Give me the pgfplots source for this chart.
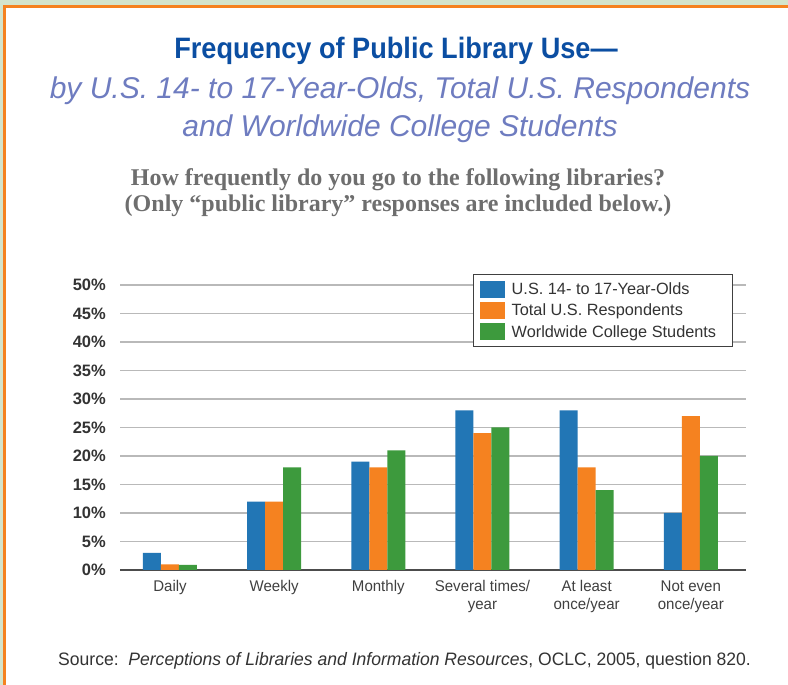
\documentclass[border=0pt]{standalone}
\usepackage{pgfplots}
\pgfplotsset{compat=1.18}
\usepackage{fontspec}
\setmainfont{Liberation Sans}
\newfontfamily\titlefont[FakeStretch=0.92]{Liberation Sans}
\newfontfamily\subfont{Liberation Sans}
\newfontfamily\qfont{Liberation Serif}
\newfontfamily\srcfont[FakeStretch=0.975]{Liberation Sans}
\newfontfamily\catfont[FakeStretch=0.97]{Liberation Sans}
\definecolor{barblue}{RGB}{34,118,181}
\definecolor{barorange}{RGB}{245,130,32}
\definecolor{bargreen}{RGB}{61,154,61}
\definecolor{titleblue}{RGB}{11,78,162}
\definecolor{subblue}{RGB}{110,124,192}
\definecolor{qgrey}{RGB}{110,110,110}
\definecolor{frameorange}{RGB}{245,130,32}
\definecolor{framegreen}{RGB}{212,228,204}
\definecolor{gridgrey}{RGB}{185,185,185}
\definecolor{txtdark}{RGB}{51,51,51}
\begin{document}
\begin{tikzpicture}[x=1pt,y=1pt]
\useasboundingbox (0,0) rectangle (788,685);
% frame
\fill[white] (0,0) rectangle (788,685);
\fill[framegreen] (0,680) rectangle (788,685);
\fill[framegreen] (0,0) rectangle (3,680);
\fill[frameorange] (3,677) rectangle (788,680);
\fill[frameorange] (3,0) rectangle (6,680);
% titles
\node[anchor=base, text=titleblue, font=\titlefont\bfseries\fontsize{29.5}{32}\selectfont, inner sep=0pt] at (396,626) {Frequency of Public Library Use—};
\node[anchor=base, text=subblue, font=\subfont\itshape\fontsize{30}{32}\selectfont, inner sep=0pt] at (400,586) {by U.S. 14- to 17-Year-Olds, Total U.S. Respondents};
\node[anchor=base, text=subblue, font=\subfont\itshape\fontsize{30}{32}\selectfont, inner sep=0pt] at (400,548) {and Worldwide College Students};
\node[anchor=base, text=qgrey, font=\qfont\bfseries\fontsize{24}{28}\selectfont, inner sep=0pt] at (398,499) {How frequently do you go to the following libraries?};
\node[anchor=base, text=qgrey, font=\qfont\bfseries\fontsize{24}{28}\selectfont, inner sep=0pt] at (398,473) {(Only “public library” responses are included below.)};
\node[anchor=base west, text=txtdark, font=\srcfont\fontsize{18}{20}\selectfont, inner sep=0pt] at (58,19) {Source:\ \ \textit{Perceptions of Libraries and Information Resources}, OCLC, 2005, question 820.};
\begin{axis}[
  at={(120pt,115pt)}, anchor=south west,
  scale only axis, width=626pt, height=285pt,
  xmin=-0.48, xmax=5.53, ymin=0, ymax=50,
  ybar=0pt, bar width=18pt,
  axis y line*=left,
  y axis line style={draw=none},
  axis x line*=bottom,
  x axis line style={-, draw=black!70, line width=1.8pt},
  xtick={0,1,2,3,4,5},
  xticklabels={Daily,Weekly,Monthly,{Several times/\\year},{At least\\once/year},{Not even\\once/year}},
  xticklabel style={font=\catfont\fontsize{15.5}{18}\selectfont, text=black!75, align=center, anchor=north, inner sep=0pt, yshift=-6pt},
  xtick style={draw=none},
  ytick={0,5,...,50},
  yticklabels={0\%,5\%,10\%,15\%,20\%,25\%,30\%,35\%,40\%,45\%,50\%},
  yticklabel style={font=\bfseries\fontsize{16.5}{18}\selectfont, text=txtdark, anchor=east, inner sep=0pt, xshift=-14pt},
  ytick style={draw=none},
  ymajorgrids, major grid style={draw=gridgrey, line width=1.5pt},
  legend style={at={(rel axis cs:0.564,1.0386)}, anchor=north west, draw=black!75, line width=1.3pt, fill=white,
    font=\fontsize{16.3}{20}\selectfont, text=txtdark, inner xsep=6pt, inner ysep=6pt, row sep=4pt, column sep=5pt},
  legend cell align=left,
  legend image code/.code={\fill[#1,draw=none] (0pt,-8.5pt) rectangle (25pt,8.5pt);},
]
\addplot[fill=barblue, draw=none] coordinates {(0,3) (1,12) (2,19) (3,28) (4,28) (5,10)};
\addplot[fill=barorange, draw=none] coordinates {(0,1) (1,12) (2,18) (3,24) (4,18) (5,27)};
\addplot[fill=bargreen, draw=none] coordinates {(0,0.9) (1,18) (2,21) (3,25) (4,14) (5,20)};
\legend{U.S. 14- to 17-Year-Olds, Total U.S. Respondents, Worldwide College Students\hspace*{8pt}}
\end{axis}
\end{tikzpicture}
\end{document}
